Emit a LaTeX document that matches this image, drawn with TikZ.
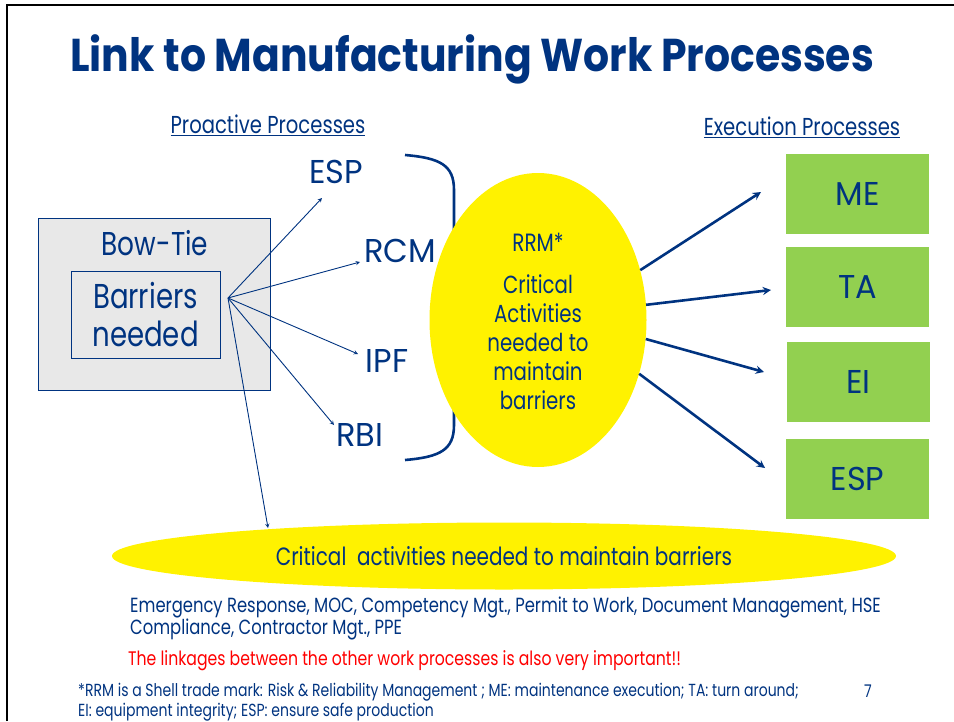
\documentclass[tikz,border=0pt]{standalone}
\usepackage{fontspec}
\setmainfont{Poppins}[FakeStretch=0.8]
\newfontfamily\titlefont{Poppins}[FakeStretch=0.89]
\newfontfamily\widefont{Poppins}[FakeStretch=0.97]
\usetikzlibrary{shapes.geometric,positioning}
\definecolor{shellblue}{RGB}{0,51,128}
\definecolor{boxgreen}{RGB}{146,208,80}
\definecolor{tiegray}{RGB}{232,232,232}

\begin{document}
\begin{tikzpicture}[x=1pt,y=-1pt,
  txt/.style={text=shellblue,inner sep=0pt},
  proc/.style={txt,font=\widefont\fontsize{33}{36}\selectfont},
  exec/.style={fill=boxgreen,minimum width=143pt,minimum height=80pt,txt,font=\widefont\fontsize{33}{36}\selectfont},
  link/.style={shellblue,line width=0.9pt,-stealth},
  wide link/.style={shellblue,line width=2.6pt,-stealth}]
\useasboundingbox (0,0) rectangle (954,721);
\draw[line width=2pt](7,721)--(7,5)--(954,5);
\node[txt,anchor=base west,font=\titlefont\bfseries\fontsize{46}{50}\selectfont](title) at (70,71){Link to Manufacturing Work Processes};
\node[txt,font=\fontsize{24.5}{28}\selectfont](pro) at (268,125){\underline{Proactive Processes}};
\node[txt,font=\fontsize{24.5}{28}\selectfont](exe) at (802,127){\underline{Execution Processes}};
%bow-tie
\node[fill=tiegray,draw=shellblue,minimum width=232pt,minimum height=172pt](bowtie) at (154,304){};
\node[txt,font=\fontsize{33}{38}\selectfont](bt) at (155,243){Bow-Tie};
\node[draw=shellblue,txt,minimum width=149pt,minimum height=87pt,align=center,font=\fontsize{34.5}{38}\selectfont](barrier) at (145.5,314.5){Barriers\\needed};
%proactive processes
\node[proc](esp) at (336,172){ESP};
\node[proc](rcm) at (400,251){RCM};
\node[proc](ipf) at (387,361){IPF};
\node[proc](rbi) at (360,435){RBI};
\coordinate(hub) at (228,298);
\coordinate(a1) at (322,198);\coordinate(a2) at (360,262);\coordinate(a3) at (358,354);\coordinate(a4) at (334,425);\coordinate(a5) at (268,528);
\draw[link](hub)--(a1);\draw[link](hub)--(a2);\draw[link](hub)--(a3);\draw[link](hub)--(a4);\draw[link](hub)--(a5);
\draw[shellblue,line width=2.6pt](405,155) .. controls (440,158) and (454,165) .. (454,190)--(454,425) .. controls (454,450) and (440,457) .. (405,460);
%rrm
\node[ellipse,fill=yellow,minimum width=217pt,minimum height=294pt,inner sep=0pt](rrm) at (538,320){};
\node[txt,font=\fontsize{25}{28}\selectfont](rrmt) at (538,242){RRM*};
\node[txt,align=center,font=\fontsize{24.7}{29}\selectfont](crit) at (538,342){Critical\\Activities\\needed to\\maintain\\barriers};
%execution processes
\node[exec](me) at (857.5,194){ME};
\node[exec](ta) at (857.5,287){TA};
\node[exec](ei) at (858.5,382){EI};
\node[exec](esp2) at (857.5,479){ESP};
\coordinate(b1) at (761,192);\coordinate(b2) at (771,290);\coordinate(b3) at (764,372);\coordinate(b4) at (765,468);
\draw[wide link](rrm.26)--(b1);\draw[wide link](rrm.8)--(b2);\draw[wide link](rrm.-10)--(b3);\draw[wide link](rrm.-28)--(b4);
%bottom
\node[ellipse,fill=yellow,minimum width=784pt,minimum height=67pt,inner sep=0pt,txt,font=\fontsize{25}{30}\selectfont](act) at (504,556){Critical\ \ activities needed to maintain barriers};
\node[txt,anchor=base west,font=\fontsize{20.5}{22}\selectfont](list1) at (130,612){Emergency Response, MOC, Competency Mgt., Permit to Work, Document Management, HSE};
\node[txt,anchor=base west,font=\fontsize{20.5}{22}\selectfont](list2) at (130,634){Compliance, Contractor Mgt., PPE};
\node[text=red,inner sep=0pt,anchor=base west,font=\fontsize{19.6}{22}\selectfont](note) at (128,665){The linkages between the other work processes is also very important!!};
\node[txt,anchor=base west,font=\fontsize{17.5}{20}\selectfont](fn1) at (78,696){*RRM is a Shell trade mark: Risk \& Reliability Management ; ME: maintenance execution; TA: turn around;};
\node[txt,anchor=base west,font=\fontsize{17.5}{20}\selectfont](fn2) at (78,716){EI: equipment integrity; ESP: ensure safe production};
\node[txt,anchor=base west,font=\fontsize{17.5}{20}\selectfont](pg) at (864,697){7};
\end{tikzpicture}
\end{document}
